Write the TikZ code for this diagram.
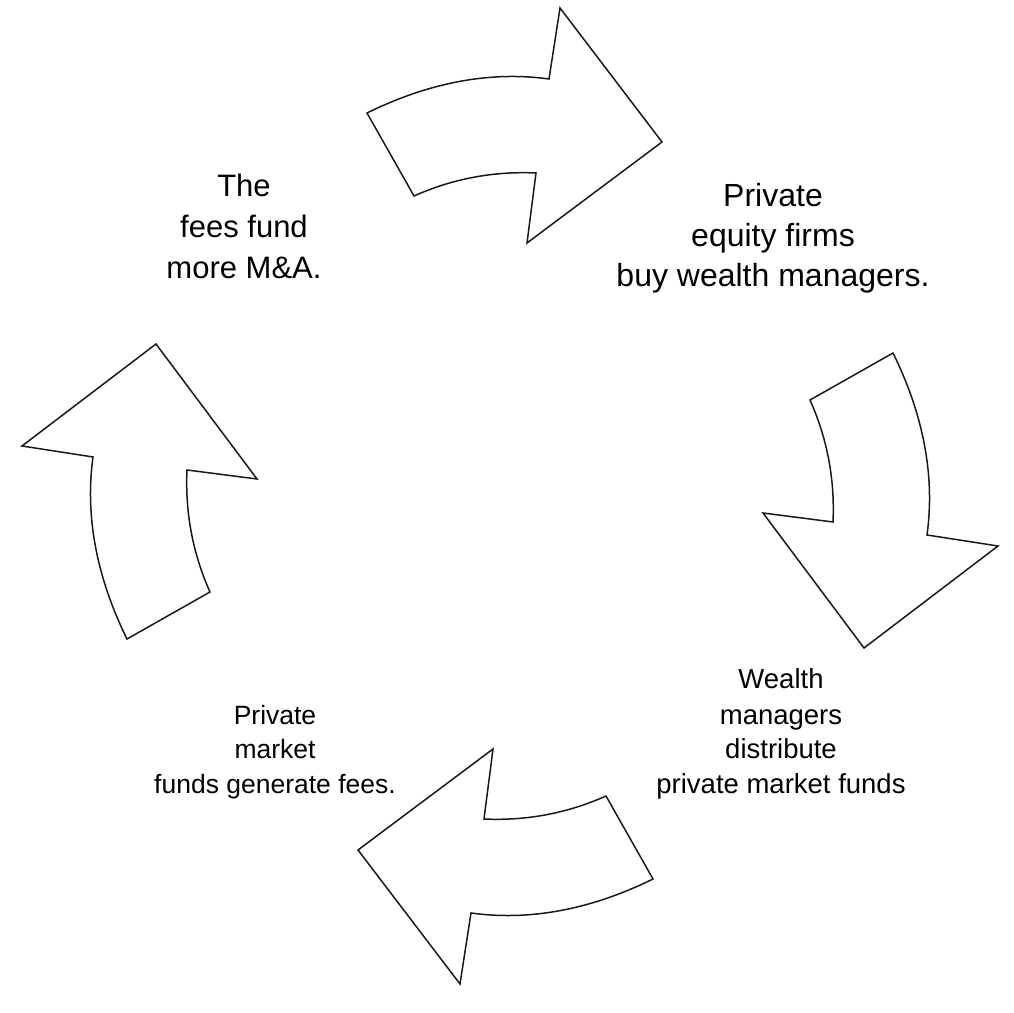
\documentclass[tikz,border=0pt]{standalone}
\usepackage{fontspec}
\setmainfont{Liberation Sans}
\usepackage{tikz}

\tikzset{
  cyclearrow/.style={draw=black!90, line width=1.5pt, fill=white},
  stagetext/.style={align=center, inner sep=0pt, anchor=base, text=black}
}

\begin{document}
\begin{tikzpicture}[x=1pt, y=1pt]
\useasboundingbox (0,0) rectangle (1014,1012);
% freccia in alto, verso destra
\draw[cyclearrow, shift={(510,516)}] (-143,383) .. controls (-80,414) and (-19,425) .. (39,417)
  -- (50,488) -- (152,354) -- (17,253) -- (26,323)
  .. controls (-17,325) and (-58,317) .. (-96,300) -- cycle;
% freccia a destra, verso il basso
\draw[cyclearrow, shift={(510,516)}, rotate=-90] (-143,383) .. controls (-80,414) and (-19,425) .. (39,417)
  -- (50,488) -- (152,354) -- (17,253) -- (26,323)
  .. controls (-17,325) and (-58,317) .. (-96,300) -- cycle;
% freccia in basso, verso sinistra
\draw[cyclearrow, shift={(510,516)}, rotate=-180] (-143,383) .. controls (-80,414) and (-19,425) .. (39,417)
  -- (50,488) -- (152,354) -- (17,253) -- (26,323)
  .. controls (-17,325) and (-58,317) .. (-96,300) -- cycle;
% freccia a sinistra, verso l'alto
\draw[cyclearrow, shift={(510,516)}, rotate=90] (-143,383) .. controls (-80,414) and (-19,425) .. (39,417)
  -- (50,488) -- (152,354) -- (17,253) -- (26,323)
  .. controls (-17,325) and (-58,317) .. (-96,300) -- cycle;
% testo in alto a sinistra (base = ultima riga)
\node[stagetext, font=\fontsize{31}{41}\selectfont] (fees) at (244,733)
  {The\\fees fund\\more M\&A.};
% testo in alto a destra
\node[stagetext, font=\fontsize{32}{40}\selectfont] (buy) at (773,725)
  {Private\\equity firms\\buy wealth managers.};
% testo in basso a destra
\node[stagetext, font=\fontsize{27.5}{35}\selectfont] (distribute) at (781,218)
  {Wealth\\managers\\distribute\\private market funds};
% testo in basso a sinistra
\node[stagetext, font=\fontsize{26.5}{35}\selectfont] (generate) at (275,218)
  {Private\\market\\funds generate fees.};
\end{tikzpicture}
\end{document}
